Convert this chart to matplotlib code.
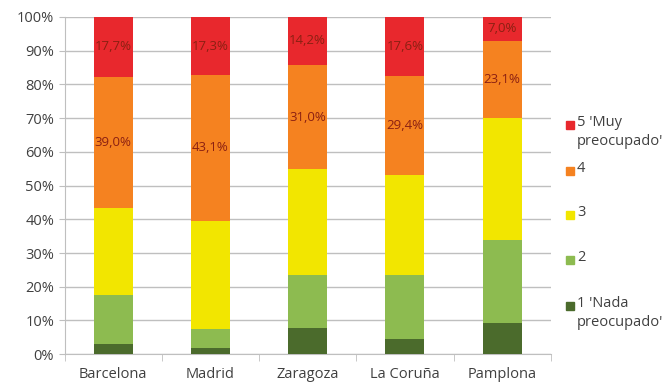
import numpy as np
import matplotlib
matplotlib.use("Agg")
import matplotlib.pyplot as plt
from matplotlib.patches import Rectangle

# Data
cities = ["Barcelona", "Madrid", "Zaragoza", "La Coruña", "Pamplona"]
nivel_1 = [3.0, 1.8, 7.7, 4.5, 9.2]
nivel_2 = [14.5, 5.6, 15.7, 18.9, 24.6]
nivel_3 = [25.8, 32.2, 31.4, 29.6, 36.1]
nivel_4 = [39.0, 43.1, 31.0, 29.4, 23.1]
nivel_5 = [17.7, 17.3, 14.2, 17.6, 7.0]
series_labels = ["1 'Nada\npreocupado'", "2", "3", "4", "5 'Muy\npreocupado'"]
colors = ["#4B6B2C", "#8DBB50", "#F2E600", "#F58220", "#E8282D"]

plt.rcParams['font.family'] = ['Open Sans', 'DejaVu Sans']

W, H = 666, 385
fig = plt.figure(figsize=(W / 100, H / 100), dpi=100)
ax = fig.add_axes([0.097, 0.08, 0.73, 0.876])

x = np.arange(len(cities))
series = [nivel_1, nivel_2, nivel_3, nivel_4, nivel_5]
bottom = np.zeros(len(cities))
containers = []
for vals, lab, col in zip(series, series_labels, colors):
    bc = ax.bar(x, vals, width=0.4, bottom=bottom, color=col, label=lab, zorder=3)
    containers.append((bc, vals))
    bottom += np.array(vals)

# value labels on levels 4 and 5
for bc, vals in containers[3:]:
    labels = [f"{v:.1f}%".replace(".", ",") for v in vals]
    ax.bar_label(bc, labels=labels, label_type="center", fontsize=9.5,
                 color="#8B2012")

ax.set_xlim(-0.5, 4.5)
ax.set_ylim(0, 100)
ax.set_yticks(np.arange(0, 101, 10))
ax.set_yticklabels([f"{v}%" for v in range(0, 101, 10)])
ax.yaxis.grid(True, color="#BFBFBF", linewidth=1, zorder=0)
ax.tick_params(axis="y", length=4, color="#BFBFBF", labelsize=10.5, labelcolor="#404040")

ax.set_xticks(x)
ax.set_xticklabels(cities)
ax.set_xticks(np.arange(-0.5, 5, 1), minor=True)
ax.tick_params(axis="x", which="major", length=0, labelsize=10.5, labelcolor="#404040", pad=9)
ax.tick_params(axis="x", which="minor", length=5, color="#BFBFBF")

for s in ["top", "right"]:
    ax.spines[s].set_visible(False)
for s in ["left", "bottom"]:
    ax.spines[s].set_color("#BFBFBF")

# legend, drawn by hand so the swatch sits next to the first line
legend_y = [125, 171, 215, 260, 306]  # pixel rows from top, level 5 first
for yy, lab, col in zip(legend_y, series_labels[::-1], colors[::-1]):
    fig.patches.append(Rectangle((566 / W, 1 - (yy + 4) / H), 8 / W, 8 / H,
                                 transform=fig.transFigure, color=col))
    fig.text(577 / W, 1 - (yy - 10) / H, lab, fontsize=10.5, color="#404040",
             va="top", ha="left", linespacing=1.4)

fig.savefig("out.png", dpi=100)
